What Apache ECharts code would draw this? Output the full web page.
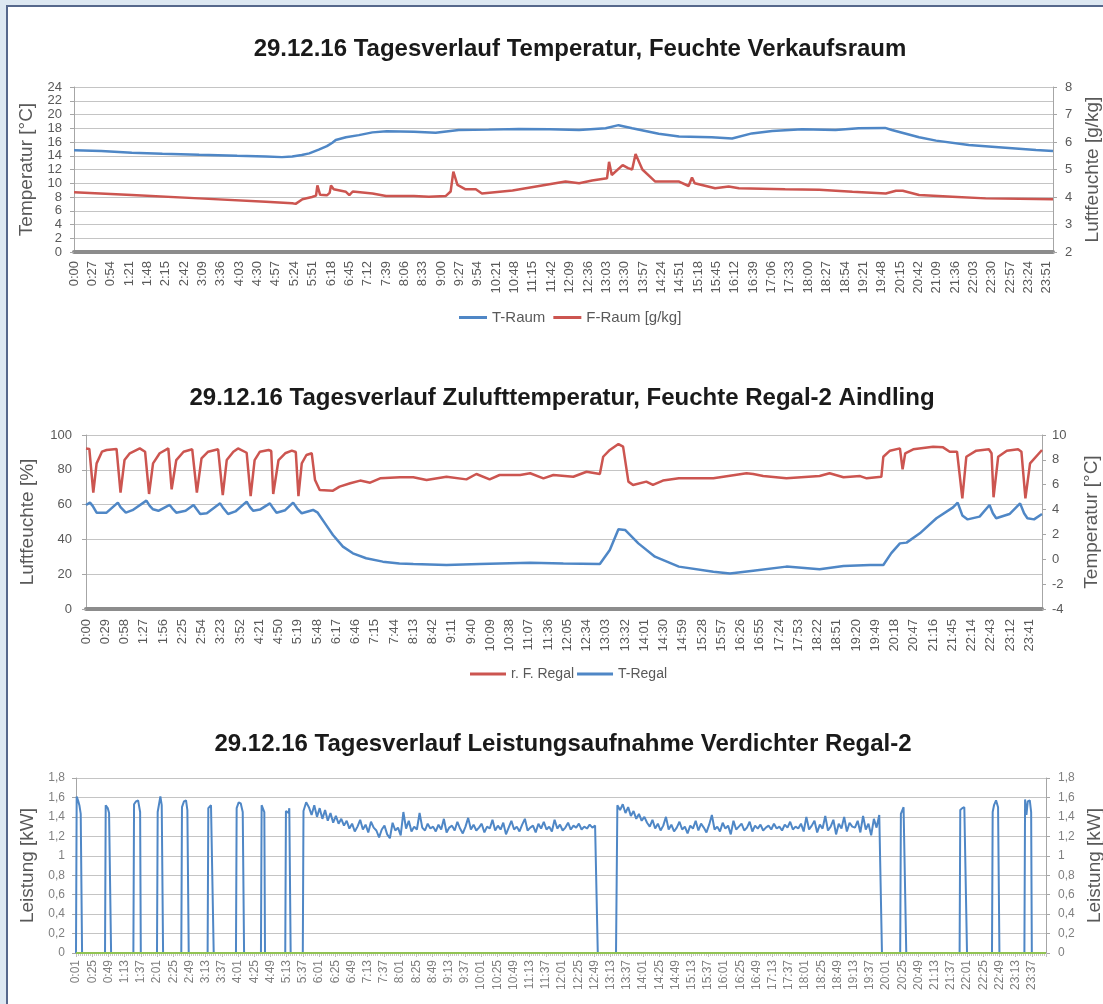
<!DOCTYPE html>
<html>
<head>
<meta charset="utf-8">
<script src="https://cdn.jsdelivr.net/npm/echarts@6/dist/echarts.min.js"></script>
<style>
  html, body { margin: 0; padding: 0; }
  body { width: 1103px; height: 1004px; background: #dde8f2; position: relative; overflow: hidden; }
  .rahmen { position: absolute; left: 6px; top: 5px; width: 1120px; height: 1020px; background: #fff;
            border-left: 2px solid #56688c; border-top: 2px solid #56688c; }
  #main { position: absolute; left: 0; top: 0; width: 1103px; height: 1004px; }
</style>
</head>
<body>
<div class="rahmen"></div>
<div id="main"></div>
<script>
// Zeit immer in Minuten ab 0:00

// Diagramm 1: Verkaufsraum
var tRaum = [[0,14.8],[40,14.7],[85,14.45],[130,14.3],[184,14.15],[240,14.0],[282,13.9],[306,13.8],[321,13.9],
  [335,14.1],[346,14.35],[360,14.9],[372,15.4],[380,15.9],[385,16.3],[400,16.7],[419,17.0],[439,17.4],[460,17.55],
  [500,17.5],[532,17.35],[566,17.75],[610,17.8],[654,17.9],[700,17.85],[743,17.75],[782,18.0],[801,18.45],[821,18.0],
  [860,17.2],[890,16.8],[938,16.7],[968,16.5],[997,17.25],[1027,17.6],[1071,17.85],[1120,17.75],[1154,18.0],
  [1193,18.05],[1203,17.75],[1243,16.7],[1268,16.2],[1316,15.55],[1365,15.2],[1415,14.85],[1440,14.7]];
var fRaum = [[0,4.17],[85,4.07],[184,3.95],[282,3.83],[321,3.77],[326,3.75],[336,3.92],[350,4.0],[356,4.05],
  [358,4.42],[362,4.08],[372,4.06],[376,4.15],[378,4.42],[382,4.28],[400,4.19],[405,4.07],[410,4.2],[439,4.13],
  [459,4.04],[500,4.04],[522,4.01],[547,4.04],[554,4.2],[558,4.92],[564,4.44],[576,4.28],[591,4.28],[600,4.13],
  [645,4.24],[684,4.4],[723,4.56],[743,4.5],[762,4.6],[784,4.68],[787,5.28],[791,4.8],[807,5.16],[815,5.05],
  [821,5.0],[826,5.56],[836,5.0],[855,4.56],[890,4.56],[904,4.4],[909,4.71],[913,4.5],[943,4.32],[963,4.38],
  [978,4.32],[1046,4.28],[1096,4.26],[1145,4.19],[1194,4.13],[1209,4.23],[1219,4.23],[1243,4.07],[1292,4.01],
  [1341,3.95],[1440,3.92]];

// Diagramm 2: Regal-2
var rfRegal = [[0,92.3],[5,92.0],[11,66.9],[16,83.7],[24,90.4],[31,91.4],[46,92.0],[49,91.4],[52,66.9],[58,85.6],
  [66,89.5],[81,92.3],[89,90.4],[92,90.0],[95,66.1],[101,83.7],[111,89.5],[124,92.3],[126,91.5],[129,68.8],
  [136,85.6],[147,90.4],[160,91.8],[163,91.0],[167,66.9],[174,86.6],[184,90.4],[199,91.8],[202,91.0],[206,65.5],
  [212,85.6],[222,90.4],[229,92.3],[242,89.8],[245,89.5],[248,64.9],[254,85.6],[262,90.4],[275,91.4],[279,90.8],
  [282,66.1],[290,85.6],[300,89.5],[310,91.0],[316,90.2],[320,64.9],[325,83.7],[332,88.5],[340,89.5],[345,74.1],
  [352,68.4],[372,68.0],[382,70.3],[398,72.3],[413,73.8],[428,72.6],[443,75.1],[473,75.7],[493,75.7],[513,74.1],
  [543,76.0],[573,74.5],[588,77.6],[608,74.5],[623,77.0],[654,77.0],[669,78.0],[689,75.1],[704,77.0],[734,76.0],
  [754,78.9],[774,77.6],[779,87.5],[789,91.4],[802,94.8],[809,93.3],[817,73.2],[824,71.3],[844,73.2],[854,71.3],
  [869,73.8],[893,75.1],[945,75.1],[995,78.0],[1005,77.6],[1020,76.4],[1055,75.1],[1105,76.4],[1120,78.0],
  [1141,75.7],[1166,76.4],[1176,75.1],[1198,76.0],[1201,87.5],[1211,91.0],[1226,92.3],[1230,80.3],[1234,89.5],
  [1246,91.8],[1276,93.3],[1291,92.9],[1301,90.4],[1312,90.4],[1320,63.6],[1326,87.5],[1341,91.0],[1360,91.8],
  [1364,89.5],[1367,64.2],[1374,87.5],[1387,91.0],[1404,91.8],[1409,90.4],[1415,63.6],[1422,83.7],[1440,91.4]];
var tRegal = [[0,4.37],[6,4.56],[10,4.3],[16,3.75],[31,3.75],[48,4.56],[52,4.2],[60,3.75],[70,3.95],[91,4.72],
  [96,4.3],[101,4.02],[109,3.9],[126,4.37],[130,4.1],[136,3.75],[150,3.9],[162,4.37],[167,4.0],[172,3.64],
  [182,3.7],[202,4.5],[207,4.1],[214,3.64],[225,3.85],[242,4.64],[247,4.2],[252,3.9],[262,4.0],[277,4.5],
  [282,4.1],[287,3.75],[300,3.95],[312,4.56],[318,4.1],[325,3.7],[342,3.97],[349,3.75],[360,2.89],[372,1.95],
  [387,1.02],[402,0.48],[422,0.08],[447,-0.19],[472,-0.33],[493,-0.38],[543,-0.46],[593,-0.38],[669,-0.27],
  [719,-0.33],[774,-0.38],[789,0.75],[802,2.41],[812,2.36],[832,1.28],[857,0.21],[893,-0.59],[945,-1.0],
  [970,-1.15],[1005,-0.92],[1055,-0.59],[1105,-0.81],[1141,-0.54],[1181,-0.46],[1201,-0.46],[1213,0.5],
  [1226,1.28],[1236,1.34],[1256,2.09],[1281,3.3],[1306,4.18],[1313,4.56],[1320,3.53],[1328,3.21],[1346,3.43],
  [1361,4.37],[1366,3.7],[1371,3.3],[1391,3.64],[1407,4.5],[1413,3.7],[1418,3.3],[1428,3.21],[1440,3.64]];

// Diagramm 3: Verdichter Leistung [kW]
var leistungVor = [[1,0],[2,1.61],[4,1.57],[6,1.52],[8,1.43],[10,0],
  [44,0],[45,1.52],[48,1.49],[50,1.44],[52,1.46],[53,0],
  [86,0],[87,1.53],[90,1.56],[93,1.57],[96,1.45],[97,0],
  [121,0],[122,1.45],[124,1.53],[126,1.61],[128,1.52],[130,0],
  [157,0],[158,1.50],[161,1.56],[164,1.57],[166,1.47],[168,0],
  [196,0],[197,1.49],[199,1.48],[201,1.52],[203,1.54],[205,0],
  [238,0],[239,1.49],[242,1.55],[245,1.54],[248,1.45],[250,0],
  [275,0],[276,1.52],[278,1.51],[280,1.45],[281,0],
  [311,0],[312,1.46],[314,1.48],[316,1.44],[317,1.49],[319,0],
  [337,0]];
var laufSchritt = 4;
var lauf1Start = 338;
var lauf1 = [1.46, 1.55, 1.50, 1.42, 1.52, 1.40, 1.49, 1.38, 1.47, 1.36,
  1.44, 1.34, 1.41, 1.33, 1.38, 1.31, 1.36, 1.28, 1.33, 1.25,
  1.30, 1.37, 1.27, 1.32, 1.24, 1.35, 1.29, 1.26, 1.19, 1.27,
  1.31, 1.22, 1.18, 1.34, 1.26, 1.29, 1.21, 1.45, 1.28, 1.36,
  1.25, 1.30, 1.27, 1.44, 1.29, 1.26, 1.33, 1.28, 1.30, 1.25,
  1.32, 1.27, 1.38, 1.24, 1.29, 1.31, 1.26, 1.35, 1.28, 1.23,
  1.30, 1.39, 1.27, 1.32, 1.26, 1.29, 1.33, 1.24, 1.30, 1.28,
  1.37, 1.26, 1.31, 1.27, 1.34, 1.22, 1.29, 1.36, 1.27, 1.30,
  1.25, 1.32, 1.38, 1.26, 1.29, 1.31, 1.24, 1.33, 1.28, 1.35,
  1.27, 1.30, 1.25, 1.37, 1.28, 1.32, 1.26, 1.29, 1.34, 1.27,
  1.31, 1.29, 1.33, 1.27, 1.30, 1.28, 1.32, 1.29, 1.31];
var leistungPause = [[774,0],[801,0]];
var lauf2Start = 803;
var lauf2 = [1.52, 1.47, 1.53, 1.44, 1.50, 1.41, 1.46, 1.38, 1.43, 1.36,
  1.40, 1.34, 1.30, 1.37, 1.28, 1.33, 1.26, 1.31, 1.40, 1.27,
  1.32, 1.25, 1.29, 1.35, 1.27, 1.30, 1.23, 1.31, 1.28, 1.36,
  1.26, 1.33, 1.29, 1.24, 1.32, 1.42, 1.27, 1.30, 1.25, 1.34,
  1.28, 1.31, 1.22, 1.36, 1.27, 1.30, 1.33, 1.26, 1.29, 1.35,
  1.25, 1.31, 1.28, 1.32, 1.26, 1.29, 1.31, 1.27, 1.33, 1.28,
  1.30, 1.26, 1.32, 1.29, 1.35, 1.27, 1.30, 1.28, 1.33, 1.25,
  1.40, 1.27, 1.31, 1.36, 1.24, 1.32, 1.28, 1.41, 1.26, 1.30,
  1.37, 1.22, 1.33, 1.28, 1.40, 1.25, 1.34, 1.30, 1.29, 1.36,
  1.24, 1.41, 1.27, 1.33, 1.21, 1.38, 1.29, 1.42];
var leistungNach = [[1195,0],
  [1222,0],[1223,1.43],[1225,1.44],[1227,1.50],[1229,1.49],[1231,0],
  [1310,0],[1311,1.47],[1314,1.49],[1317,1.50],[1319,1.48],[1321,0],
  [1358,0],[1359,1.45],[1361,1.52],[1364,1.57],[1367,1.50],[1369,0],
  [1406,0],[1407,1.58],[1409,1.42],[1411,1.56],[1414,1.57],[1416,1.45],[1417,0],
  [1438,0]];
var nullLinie = [[1,0],[1438,0]];

// Leistungsreihe zusammensetzen
var leistung = leistungVor.slice();
lauf1.forEach(function (v, i) { leistung.push([lauf1Start + i * laufSchritt, v]); });
leistung = leistung.concat(leistungPause);
lauf2.forEach(function (v, i) { leistung.push([lauf2Start + i * laufSchritt, v]); });
leistung = leistung.concat(leistungNach);

var blau = '#4f87c6', rot = '#cc5550', gruen = '#92c353';
var schrift = 'Liberation Sans, Arial, sans-serif';

function uhrzeit(v) {
  var m = Math.round(v) % 60;
  return Math.floor(v / 60) + ':' + (m < 10 ? '0' + m : m);
}
function komma(v) {
  return String(Math.round(v * 10) / 10).replace('.', ',');
}

// gemeinsame Achsen-Einstellungen
function zeitAchse(grid, intervall, min, max, opt) {
  opt = opt || {};
  return {
    gridIndex: grid, type: 'value', min: min, max: max, interval: intervall,
    axisLine: { show: true, lineStyle: opt.linie || { color: '#8c8c8c', width: 4 } },
    axisTick: opt.tick || { show: false },
    minorTick: opt.minor || { show: false },
    splitLine: { show: false },
    axisLabel: {
      rotate: 90, margin: opt.margin || 9, showMaxLabel: false, formatter: uhrzeit,
      fontSize: opt.fontSize || 13, color: opt.farbe || '#595959', fontFamily: schrift
    }
  };
}
function wertAchse(grid, pos, min, max, intervall, name, gap, opt) {
  opt = opt || {};
  return {
    gridIndex: grid, type: 'value', position: pos, min: min, max: max, interval: intervall,
    name: name, nameLocation: 'middle', nameGap: gap,
    nameTextStyle: { fontSize: 19, color: '#595959', fontFamily: schrift },
    axisLine: { show: true, lineStyle: { color: '#a6a6a6', width: 1 } },
    axisTick: { show: true, length: 4, lineStyle: { color: '#a6a6a6' } },
    splitLine: { show: !!opt.gitter, lineStyle: { color: '#c4c4c4', width: 1.2 } },
    axisLabel: {
      margin: opt.margin || 12, fontSize: opt.fontSize || 13, color: opt.farbe || '#595959',
      fontFamily: schrift, formatter: opt.formatter
    }
  };
}
function linie(name, x, y, daten, farbe, breite) {
  return {
    name: name, type: 'line', xAxisIndex: x, yAxisIndex: y, data: daten,
    symbol: 'none', showSymbol: false, animation: false,
    lineStyle: { color: farbe, width: breite }, itemStyle: { color: farbe }
  };
}

var titelStil = { fontSize: 24, fontWeight: 'bold', color: '#1a1a1a', fontFamily: schrift };
var legendeStil = { fontSize: 15, color: '#595959', fontFamily: schrift };

var option = {
  animation: false,
  title: [
    { text: '29.12.16 Tagesverlauf Temperatur, Feuchte Verkaufsraum', left: 580, top: 37, textAlign: 'center', textStyle: titelStil, padding: 0 },
    { text: '29.12.16 Tagesverlauf Zulufttemperatur, Feuchte Regal-2 Aindling', left: 562, top: 386, textAlign: 'center', textStyle: titelStil, padding: 0 },
    { text: '29.12.16 Tagesverlauf Leistungsaufnahme Verdichter Regal-2', left: 563, top: 732, textAlign: 'center', textStyle: titelStil, padding: 0 }
  ],
  legend: [
    { data: ['T-Raum', 'F-Raum [g/kg]'], left: 459, top: 310, padding: 0, icon: 'rect', itemWidth: 28, itemHeight: 3, itemGap: 8, textStyle: legendeStil },
    { data: ['r. F. Regal', 'T-Regal'], left: 470, top: 667, padding: 0, icon: 'rect', itemWidth: 36, itemHeight: 3, itemGap: 3, textStyle: { fontSize: 14, color: '#595959', fontFamily: schrift } }
  ],
  grid: [
    { left: 74, top: 87, width: 979, height: 165, outerBoundsMode: 'none', containLabel: false },
    { left: 86, top: 435, width: 956, height: 174, outerBoundsMode: 'none', containLabel: false },
    { left: 76, top: 778, width: 970, height: 175, outerBoundsMode: 'none', containLabel: false }
  ],
  xAxis: [
    zeitAchse(0, 27, 0, 1440, {}),
    zeitAchse(1, 29, 0, 1440, { margin: 10 }),
    zeitAchse(2, 24, 1, 1438, {
      linie: { color: '#d0d0d0', width: 1 },
      tick: { show: true, length: 4, lineStyle: { color: '#bfbfbf' } },
      minor: { show: true, splitNumber: 8, length: 3, lineStyle: { color: '#c8c8c8' } },
      fontSize: 12, farbe: '#7f7f7f', margin: 7
    })
  ],
  yAxis: [
    wertAchse(0, 'left', 0, 24, 2, 'Temperatur [°C]', 38, { gitter: true }),
    wertAchse(0, 'right', 2, 8, 1, 'Luftfeuchte [g/kg]', 29, {}),
    wertAchse(1, 'left', 0, 100, 20, 'Luftfeuchte [%]', 49, { gitter: true, margin: 14 }),
    wertAchse(1, 'right', -4, 10, 2, 'Temperatur [°C]', 40, { margin: 10 }),
    wertAchse(2, 'left', 0, 1.8, 0.2, 'Leistung [kW]', 39, { gitter: true, margin: 11, fontSize: 12, farbe: '#7f7f7f', formatter: komma }),
    wertAchse(2, 'right', 0, 1.8, 0.2, 'Leistung [kW]', 36, { margin: 12, fontSize: 12, farbe: '#7f7f7f', formatter: komma })
  ],
  series: [
    linie('T-Raum', 0, 0, tRaum, blau, 2.5),
    linie('F-Raum [g/kg]', 0, 1, fRaum, rot, 2.5),
    linie('r. F. Regal', 1, 2, rfRegal, rot, 2.5),
    linie('T-Regal', 1, 3, tRegal, blau, 2.5),
    linie('Leistung', 2, 4, leistung, blau, 2),
    linie('Null', 2, 4, nullLinie, gruen, 2)
  ]
};

var myChart = echarts.init(document.getElementById('main'));
myChart.setOption(option);
</script>
</body>
</html>
